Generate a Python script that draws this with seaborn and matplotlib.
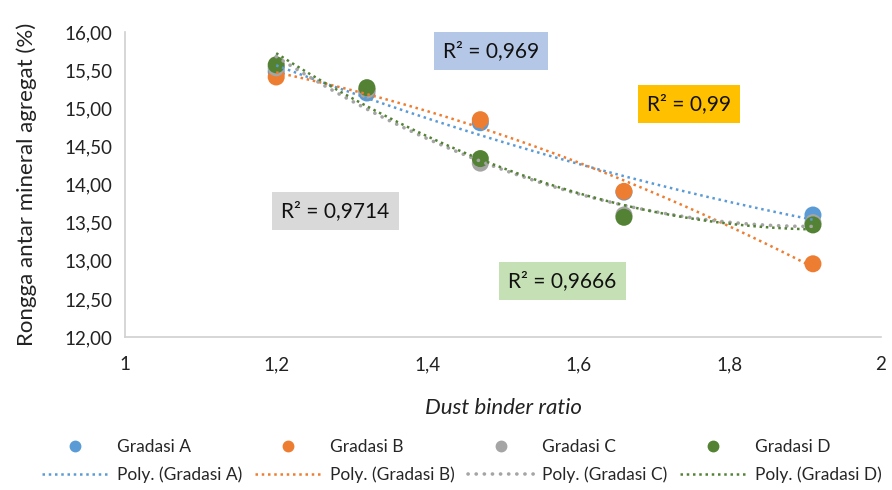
import numpy as np
import pandas as pd
import matplotlib
matplotlib.use("Agg")
import matplotlib.pyplot as plt
import seaborn as sns
from matplotlib.lines import Line2D

# ---- data ----
dbr = [1.2, 1.32, 1.47, 1.66, 1.91]
gradasi_a = [15.48, 15.20, 14.81, 13.90, 13.60]
gradasi_b = [15.41, 15.24, 14.85, 13.91, 12.96]
gradasi_c = [15.53, 15.24, 14.28, 13.60, 13.50]
gradasi_d = [15.57, 15.27, 14.34, 13.57, 13.47]
series_names = ["Gradasi A", "Gradasi B", "Gradasi C", "Gradasi D"]
r2_labels = ["R² = 0,969", "R² = 0,99", "R² = 0,9714", "R² = 0,9666"]
xtick_vals = [1, 1.2, 1.4, 1.6, 1.8, 2]
xtick_labels = ["1", "1,2", "1,4", "1,6", "1,8", "2"]
ytick_vals = [12.0, 12.5, 13.0, 13.5, 14.0, 14.5, 15.0, 15.5, 16.0]
ytick_labels = ["12,00", "12,50", "13,00", "13,50", "14,00", "14,50", "15,00", "15,50", "16,00"]

colors = ["#5B9BD5", "#ED7D31", "#A5A5A5", "#548235"]
box_colors = ["#B4C7E7", "#FFC000", "#D9D9D9", "#C5E0B4"]

sns.set_theme(style="white")
plt.rcParams["font.family"] = ["Lato", "DejaVu Sans"]

df = pd.DataFrame({
    "x": dbr * 4,
    "y": gradasi_a + gradasi_b + gradasi_c + gradasi_d,
    "series": sum([[n] * len(dbr) for n in series_names], []),
})

fig = plt.figure(figsize=(8.92, 4.90), dpi=100)
ax = fig.add_axes([125 / 892, 1 - 337 / 490, 756 / 892, 305 / 490])

sns.scatterplot(data=df, x="x", y="y", hue="series", palette=colors,
                s=150, edgecolor="none", linewidth=0, ax=ax, legend=False, zorder=3)

dot_styles = {"Gradasi A": ((0, (1, 1.5)), 1.8, "butt"),
              "Gradasi B": ((0, (1, 1.5)), 1.8, "butt"),
              "Gradasi C": ((0, (0.05, 2.2)), 2.6, "round"),
              "Gradasi D": ((0, (1, 1.5)), 1.8, "butt")}

# polynomial (order 2) trendlines
xs = np.linspace(min(dbr), max(dbr), 200)
for name, col in zip(series_names, colors):
    yv = df[df.series == name]["y"].values
    coef = np.polyfit(dbr, yv, 2)
    ys = np.polyval(coef, xs)
    ls, lw, cap = dot_styles[name]
    ax.plot(xs, ys, color=col, linestyle=ls, linewidth=lw, zorder=4, dash_capstyle=cap)

ax.set_xlim(1, 2)
ax.set_ylim(12, 16)
ax.set_xticks(xtick_vals)
ax.set_xticklabels(xtick_labels)
ax.set_yticks(ytick_vals)
ax.set_yticklabels(ytick_labels)
ax.tick_params(axis="both", labelsize=13.5, colors="#222222", length=0, pad=14)
ax.tick_params(axis="y", pad=9)
for s in ["top", "right"]:
    ax.spines[s].set_visible(False)
for s in ["left", "bottom"]:
    ax.spines[s].set_color("#D0D0D0")
    ax.spines[s].set_linewidth(1.2)
ax.set_xlabel("Dust binder ratio", fontsize=16, style="italic", color="#222222", labelpad=18)
ax.set_ylabel("Rongga antar mineral agregat (%)", fontsize=16, color="#222222", labelpad=20)

# R² boxes
box_pos = [(491, 51), (689, 104), (335, 211), (562, 281)]
for lab, bc, (px, py) in zip(r2_labels, box_colors, box_pos):
    fig.text(px / 892, 1 - py / 490, lab, ha="center", va="center", fontsize=15,
             color="#111111",
             bbox=dict(boxstyle="square,pad=0.45", facecolor=bc, edgecolor="none"))

# legend
handles = []
labels = []
for name, col in zip(series_names, colors):
    handles.append(Line2D([], [], marker="o", linestyle="none", color=col, markersize=7.5))
    labels.append(name)
    ls, lw, cap = dot_styles[name]
    handles.append(Line2D([], [], linestyle=ls, color=col, linewidth=lw, dash_capstyle=cap))
    labels.append("Poly. (" + name + ")")
fig.legend(handles, labels, ncol=4, loc="center", bbox_to_anchor=(0.518, 1 - 461 / 490),
           frameon=False, fontsize=12.5, handlelength=3.8, columnspacing=0.75,
           handletextpad=0.5, labelspacing=0.65, borderpad=0.2)

fig.savefig("out.png", dpi=100)
